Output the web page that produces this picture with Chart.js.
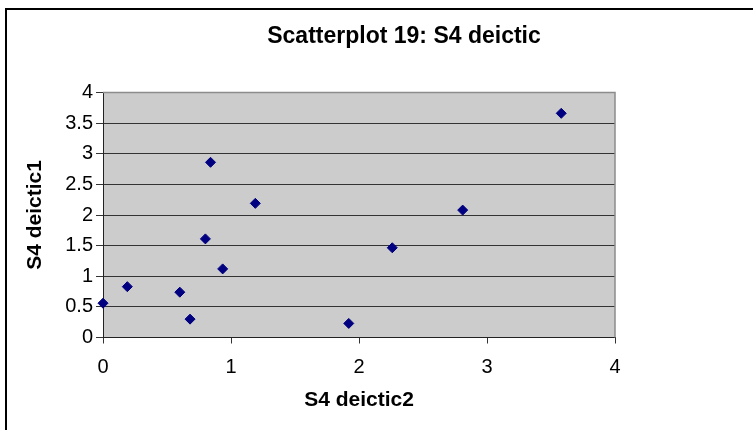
<!DOCTYPE html>
<html>
<head>
<meta charset="utf-8">
<title>Scatterplot 19: S4 deictic</title>
<script src="https://cdn.jsdelivr.net/npm/chart.js@4/dist/chart.umd.min.js"></script>
<style>
  html, body { margin: 0; padding: 0; background: #fff; }
  #wrap { width: 753px; height: 430px; }
</style>
</head>
<body>
<div id="wrap"><canvas id="chart" width="753" height="430"></canvas></div>
<script>
// values
const chartTitle = "Scatterplot 19: S4 deictic"
const xLabel = "S4 deictic2"
const yLabel = "S4 deictic1"
const xValues = [0, 0.19, 0.60, 0.68, 0.80, 0.84, 0.935, 1.19, 1.92, 2.26, 2.81, 3.58]
const yValues = [0.56, 0.83, 0.74, 0.30, 1.61, 2.86, 1.12, 2.19, 0.23, 1.465, 2.08, 3.66]
const xTicks = [0, 1, 2, 3, 4]
const yTicks = [0, 0.5, 1, 1.5, 2, 2.5, 3, 3.5, 4]

const fontFamily = "'Liberation Sans', Arial, sans-serif"

// grey plot area, outer frame and the title
const decorations = {
  id: "decorations",
  beforeDraw(chart) {
    const { ctx, chartArea: a } = chart
    ctx.save()
    ctx.fillStyle = "#fff"
    ctx.fillRect(0, 0, chart.width, chart.height)
    ctx.fillStyle = "#cccccc"
    ctx.fillRect(a.left, a.top, a.right - a.left, a.bottom - a.top)
    ctx.strokeStyle = "#000"
    ctx.lineWidth = 2
    ctx.beginPath()
    ctx.moveTo(6, chart.height)
    ctx.lineTo(6, 9)
    ctx.lineTo(chart.width, 9)
    ctx.stroke()
    ctx.fillStyle = "#000"
    ctx.font = "bold 23px " + fontFamily
    ctx.textAlign = "center"
    ctx.textBaseline = "middle"
    ctx.fillText(chartTitle, 404, 37)
    ctx.restore()
  },
  afterDatasetsDraw(chart) {
    const { ctx, chartArea: a } = chart
    ctx.save()
    ctx.strokeStyle = "#8c8c8c"
    ctx.lineWidth = 1.5
    ctx.beginPath()
    ctx.moveTo(a.left, a.top)
    ctx.lineTo(a.right, a.top)
    ctx.lineTo(a.right, a.bottom)
    ctx.stroke()
    ctx.restore()
  },
}

new Chart(document.getElementById("chart"), {
  type: "scatter",
  data: {
    datasets: [
      {
        label: yLabel,
        data: xValues.map((x, i) => ({ x: x, y: yValues[i] })),
        pointStyle: "rectRot",
        pointRadius: 5,
        pointHoverRadius: 5,
        backgroundColor: "#000080",
        borderColor: "#000080",
        borderWidth: 1,
        clip: false,
      },
    ],
  },
  options: {
    responsive: false,
    animation: false,
    events: [],
    layout: {
      padding: { left: 6, top: 92.5, right: 138, bottom: 0 },
    },
    plugins: {
      legend: { display: false },
      title: { display: false },
      tooltip: { enabled: false },
    },
    scales: {
      x: {
        type: "linear",
        min: 0,
        max: 4,
        afterFit: (s) => { s.height = 92.5 },
        afterBuildTicks: (s) => { s.ticks = xTicks.map((v) => ({ value: v })) },
        grid: {
          drawOnChartArea: false,
          drawTicks: true,
          tickLength: 6,
          tickColor: "#333",
        },
        border: { color: "#222", width: 1 },
        ticks: {
          color: "#000",
          padding: 11.5,
          font: { family: fontFamily, size: 20 },
          callback: (v) => String(v),
        },
        title: {
          display: true,
          text: xLabel,
          color: "#000",
          font: { family: fontFamily, size: 21, weight: "bold" },
          padding: { top: 0, bottom: 16.7 },
        },
      },
      y: {
        type: "linear",
        min: 0,
        max: 4,
        afterFit: (s) => { s.width = 97 },
        afterBuildTicks: (s) => { s.ticks = yTicks.map((v) => ({ value: v })) },
        grid: {
          color: "#333",
          lineWidth: 1,
          drawTicks: true,
          tickLength: 7,
          tickColor: "#333",
        },
        border: { color: "#222", width: 1 },
        ticks: {
          color: "#000",
          padding: 3,
          font: { family: fontFamily, size: 20 },
          callback: (v) => String(v),
        },
        title: {
          display: true,
          text: yLabel,
          color: "#000",
          font: { family: fontFamily, size: 21, weight: "bold" },
          padding: { top: 17, bottom: 0 },
        },
      },
    },
  },
  plugins: [decorations],
})
</script>
</body>
</html>
